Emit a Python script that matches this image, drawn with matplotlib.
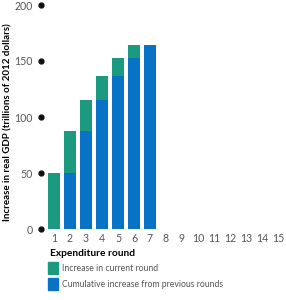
import matplotlib.pyplot as plt
from matplotlib.patches import Patch

rounds = list(range(1, 16))
bar_rounds = [1, 2, 3, 4, 5, 6, 7]
current = [50, 37.5, 28.1, 21.1, 15.8, 11.9, 0]
cumulative = [0, 50, 87.5, 115.6, 136.7, 152.5, 164.4]
yticks = [0, 50, 100, 150, 200]

green = '#1c9a80'
blue = '#0a72c6'
gray = '#555555'


def main():
    plt.rcParams['font.family'] = ['Lato', 'DejaVu Sans']
    fig = plt.figure(figsize=(2.86, 3.0), dpi=100)
    ax = fig.add_axes([41 / 286, 71 / 300, 245 / 286, 224 / 300])

    ax.bar(bar_rounds, cumulative, width=0.75, color=blue)
    ax.bar(bar_rounds, current, width=0.75, bottom=cumulative, color=green)

    ax.set_xlim(0.19, 15.5)
    ax.set_ylim(0, 200)
    for s in ax.spines.values():
        s.set_visible(False)

    ax.set_yticks(yticks)
    ax.set_xticks(rounds)
    ax.tick_params(length=0, labelsize=7.6, colors=gray)
    ax.tick_params(axis='y', pad=6)
    ax.tick_params(axis='x', pad=3)
    ax.plot([0] * len(yticks), yticks, 'o', color='#111111', markersize=3.5,
            transform=ax.get_yaxis_transform(), clip_on=False)

    fig.text(8 / 286, 1 - 122 / 300, 'Increase in real GDP (trillions of 2012 dollars)',
             rotation=90, ha='center', va='center', fontsize=7.0, weight='bold')
    fig.text(50 / 286, 1 - 254 / 300, 'Expenditure round',
             ha='left', va='center', fontsize=7.3, weight='bold')

    handles = [Patch(color=green, label='Increase in current round'),
               Patch(color=blue, label='Cumulative increase from previous rounds')]
    fig.legend(handles=handles, loc='upper left', bbox_to_anchor=(48 / 286, 1 - 262 / 300),
               frameon=False, fontsize=6.2, labelcolor=gray, handlelength=1.2,
               handleheight=1.7, handletextpad=0.4, labelspacing=0.5, borderaxespad=0,
               borderpad=0)

    fig.savefig('out.png', dpi=100)


if __name__ == '__main__':
    main()
